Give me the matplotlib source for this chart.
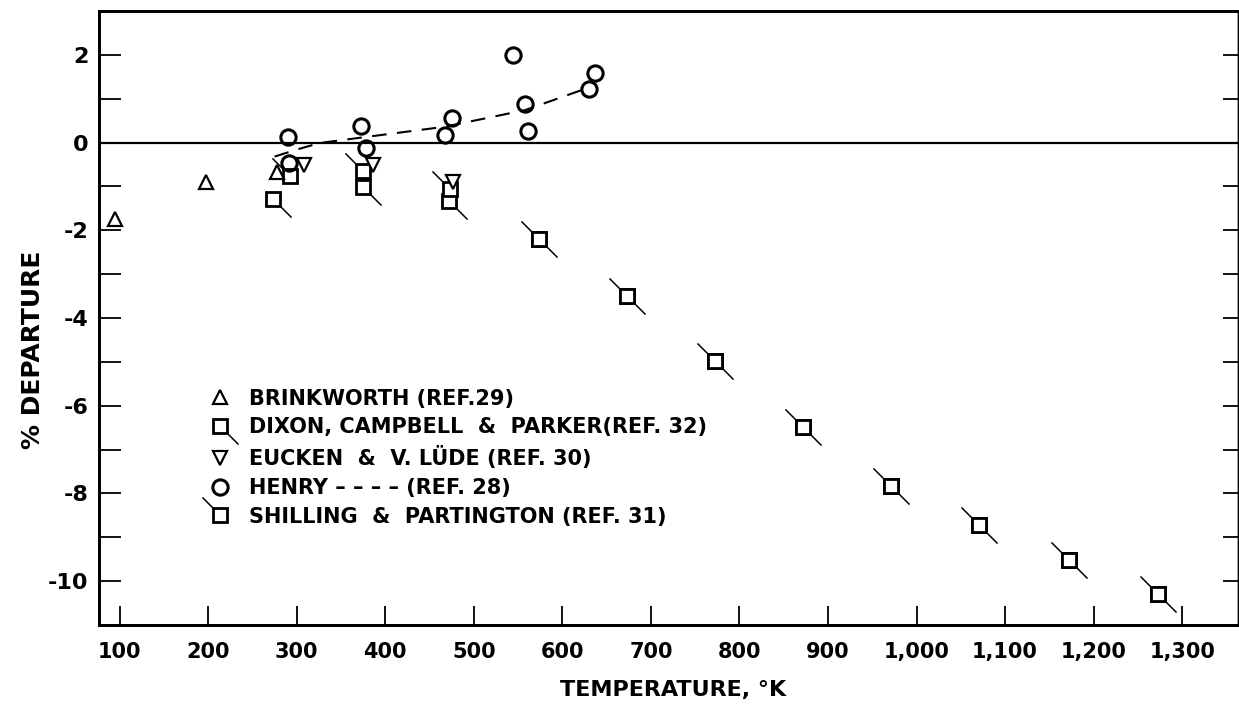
import matplotlib.pyplot as plt
from matplotlib.path import Path
from matplotlib.lines import Line2D

# data
brink_T = [95, 197, 278]
brink_y = [-1.74, -0.91, -0.66]

eucken_T = [308, 386, 477]
eucken_y = [-0.52, -0.51, -0.89]

henry_T = [290, 291, 373, 378, 467, 475, 544, 558, 561, 630, 637]
henry_y = [0.12, -0.47, 0.38, -0.13, 0.17, 0.57, 1.99, 0.88, 0.27, 1.21, 1.58]

henry_fit_T = [275, 300, 326, 383, 467, 558, 625]
henry_fit_y = [-0.32, -0.16, -0.01, 0.14, 0.36, 0.74, 1.22]

dixon_T = [273, 375, 472, 574, 673, 772, 872, 971, 1071, 1172, 1273]
dixon_y = [-1.28, -1.02, -1.34, -2.2, -3.5, -4.99, -6.48, -7.83, -8.73, -9.51, -10.3]

shilling_T = [292, 375, 473, 574, 673, 772, 872, 971, 1071, 1172, 1273]
shilling_y = [-0.76, -0.64, -1.07, -2.2, -3.5, -4.99, -6.48, -7.83, -8.73, -9.51, -10.3]

x_ticks = [100, 200, 300, 400, 500, 600, 700, 800, 900, 1000, 1100, 1200, 1300]
x_ticklabels = ["100", "200", "300", "400", "500", "600", "700", "800", "900",
                "1,000", "1,100", "1,200", "1,300"]
y_ticks = [2, 1, 0, -1, -2, -3, -4, -5, -6, -7, -8, -9, -10]
y_ticklabels = ["2", "", "0", "", "-2", "", "-4", "", "-6", "", "-8", "", "-10"]

labels = ["BRINKWORTH (REF.29)",
          "DIXON, CAMPBELL  &  PARKER(REF. 32)",
          "EUCKEN  &  V. LÜDE (REF. 30)",
          "HENRY – – – – (REF. 28)",
          "SHILLING  &  PARTINGTON (REF. 31)"]

plt.rcParams["font.family"] = ["DejaVu Sans"]
plt.rcParams["font.weight"] = "bold"


def tail(sign):
    # diagonal tail from a square corner; sign=+1 lower-right, -1 upper-left
    verts = [(sign * 1.0, -sign * 1.0), (sign * 2.5, -sign * 2.5)]
    return Path(verts, [Path.MOVETO, Path.LINETO])


fig = plt.figure(figsize=(12.39, 7.09), dpi=100)
ax = fig.add_axes([0.0801, 0.1185, 0.9191, 0.866])

ax.axhline(0, color="black", lw=1.6, zorder=1)
ax.plot(henry_fit_T, henry_fit_y, color="black", lw=1.5, ls=(0, (7, 5)), zorder=2)

sq_kw = dict(ls="none", marker="s", ms=10, mfc="white", mec="black", mew=2.0)
tail_kw = dict(ls="none", ms=26, mec="black", mew=1.1)

ax.plot(dixon_T, dixon_y, marker=tail(1), **tail_kw, zorder=3)
ax.plot(shilling_T, shilling_y, marker=tail(-1), **tail_kw, zorder=3)
ax.plot(dixon_T, dixon_y, **sq_kw, zorder=4)
ax.plot(shilling_T, shilling_y, **sq_kw, zorder=4)

tri_kw = dict(ls="none", ms=10.5, mfc="white", mec="black", mew=1.6)
circ_kw = dict(ls="none", marker="o", ms=11, mfc="none", mec="black", mew=2.2)

ax.plot(brink_T, brink_y, marker="^", **tri_kw, zorder=5)
ax.plot(eucken_T, eucken_y, marker="v", **tri_kw, zorder=5)
ax.plot(henry_T, henry_y, **circ_kw, zorder=6)

ax.set_xlim(77, 1363)
ax.set_ylim(-11, 3)

ax.set_xticks(x_ticks, x_ticklabels)
ax.set_yticks(y_ticks, y_ticklabels)
ax.tick_params(axis="x", direction="in", length=14, width=1.3, pad=12,
               labelsize=15, top=False)
ax.tick_params(axis="y", direction="in", length=16, width=1.3, pad=8,
               labelsize=16, right=False)
for lab in ax.get_xticklabels() + ax.get_yticklabels():
    lab.set_fontweight("bold")

# shorter ticks on the right edge
ax_r = ax.twinx()
ax_r.set_ylim(ax.get_ylim())
ax_r.set_yticks(y_ticks, [""] * len(y_ticks))
ax_r.tick_params(axis="y", direction="in", length=11, width=1.3)
for a in (ax, ax_r):
    for side in ["left", "bottom", "top"]:
        a.spines[side].set_linewidth(2.0)
    a.spines["right"].set_linewidth(1.0)

ax.set_xlabel("TEMPERATURE, °K", fontsize=16, fontweight="bold")
ax.xaxis.set_label_coords(0.504, -0.09)
ax.set_ylabel("% DEPARTURE", fontsize=18, fontweight="bold", va="center")
ax.yaxis.set_label_coords(-0.058, 0.448)

# legend handles
h_brink = Line2D([], [], marker="^", **tri_kw)
h_dixon = (Line2D([], [], **sq_kw), Line2D([], [], marker=tail(1), **tail_kw))
h_eucken = Line2D([], [], marker="v", **tri_kw)
h_henry = Line2D([], [], **circ_kw)
h_shill = (Line2D([], [], **sq_kw), Line2D([], [], marker=tail(-1), **tail_kw))

ax_r.legend([h_brink, h_dixon, h_eucken, h_henry, h_shill], labels,
            loc="upper left", bbox_to_anchor=(0.084, 0.402), frameon=False,
            prop={"size": 15, "weight": "bold"}, handlelength=1.4,
            handletextpad=0.7, labelspacing=0.42, borderpad=0)

fig.savefig("out.png", dpi=100)
plt.close(fig)
